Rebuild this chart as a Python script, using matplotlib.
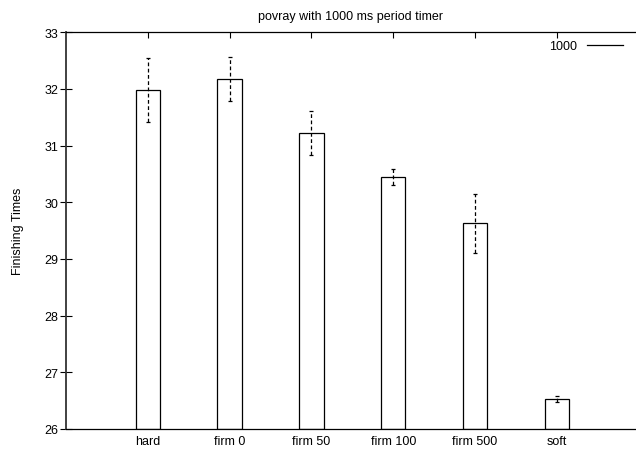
import matplotlib
matplotlib.use("Agg")
import matplotlib.pyplot as plt
from matplotlib.lines import Line2D

plt.rcParams['font.family'] = ['Liberation Sans', 'DejaVu Sans']

categories = ["hard", "firm 0", "firm 50", "firm 100", "firm 500", "soft"]
values = [31.98, 32.17, 31.23, 30.44, 29.63, 26.53]
err_low = [31.41, 31.78, 30.83, 30.30, 29.10, 26.48]
err_high = [32.55, 32.57, 31.62, 30.58, 30.15, 26.58]
legend_label = "1000"
title = "povray with 1000 ms period timer"
ylabel = "Finishing Times"
yticks = [26, 27, 28, 29, 30, 31, 32, 33]

FS = 9

fig = plt.figure(figsize=(6.36, 4.52), dpi=100)
ax = fig.add_axes([66/636, 22/452, 570/636, 396.7/452])

x = list(range(1, len(categories) + 1))
ax.bar(x, [v - 26 for v in values], bottom=26, width=0.3, facecolor='white',
       edgecolor='black', linewidth=0.9, zorder=2)

lo = [v - l for v, l in zip(values, err_low)]
hi = [h - v for v, h in zip(values, err_high)]
eb = ax.errorbar(x, values, yerr=[lo, hi], fmt='none', ecolor='black',
                 elinewidth=0.9, capsize=1.5, capthick=0.9, zorder=3)
for lc in eb[2]:
    lc.set_linestyle((0, (3, 2)))

ax.set_xlim(0, 570/81.8)
ax.set_ylim(26, 33)
ax.set_xticks(x)
ax.set_xticklabels(categories, fontsize=FS)
ax.set_yticks(yticks)
ax.set_yticklabels([str(t) for t in yticks], fontsize=FS)
ax.tick_params(axis='x', direction='in', length=4, width=0.8, top=True, pad=4)
ax.tick_params(axis='y', direction='inout', length=8, width=0.8, pad=1.5)
ax.spines['right'].set_visible(False)
for s in ['top', 'bottom']:
    ax.spines[s].set_linewidth(0.9)
ax.spines['left'].set_linewidth(1.3)
ax.spines['left'].set_color('#333333')

ax.set_title(title, fontsize=FS, pad=9.5)
ax.set_ylabel(ylabel, fontsize=FS, labelpad=15)

handle = Line2D([], [], color='black', linewidth=0.9)
leg = ax.legend([handle], [legend_label], loc='upper right', frameon=False,
                fontsize=FS, markerfirst=False, handlelength=2.9,
                borderaxespad=0, borderpad=0, handletextpad=0.75,
                bbox_to_anchor=((623 - 66) / 570, (430 - 41) / 396.7))

fig.savefig("out.png", dpi=100)
